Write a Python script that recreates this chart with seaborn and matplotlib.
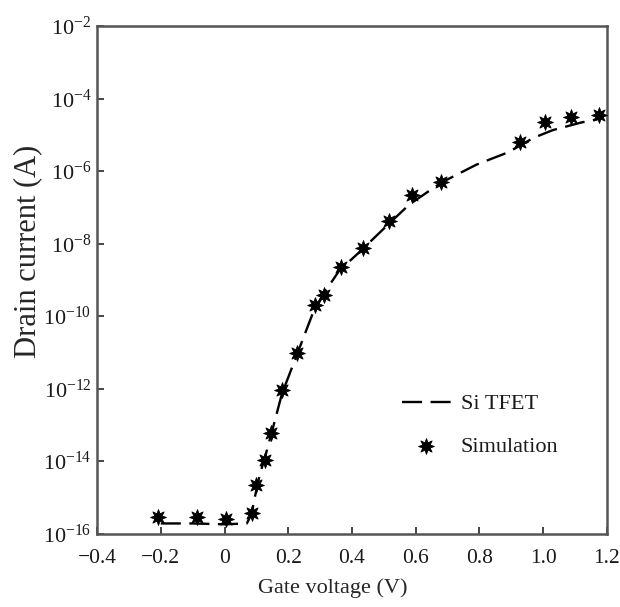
import matplotlib
matplotlib.use("Agg")
import matplotlib.pyplot as plt
import seaborn as sns
import pandas as pd

# Si TFET transfer characteristic (dashed model curve)
vg_model = [-0.20, -0.10, 0.00, 0.07, 0.085, 0.095, 0.11, 0.13, 0.15, 0.18,
            0.23, 0.28, 0.31, 0.36, 0.43, 0.50, 0.58, 0.68, 0.79, 0.89,
            0.97, 1.03, 1.12, 1.18]
id_model = [1.9e-16, 1.9e-16, 1.8e-16, 1.9e-16, 3.5e-16, 1.0e-15, 4.0e-15,
            1.6e-14, 7.1e-14, 7.1e-13, 1.0e-11, 1.4e-10, 4.0e-10, 1.8e-9,
            6.6e-9, 2.6e-8, 1.2e-7, 4.8e-7, 1.5e-6, 3.3e-6, 8.3e-6,
            1.35e-5, 2.2e-5, 2.8e-5]

# Simulated points
vg_sim = [-0.21, -0.086, 0.005, 0.086, 0.10, 0.127, 0.146, 0.18, 0.227,
          0.284, 0.312, 0.365, 0.435, 0.516, 0.588, 0.679, 0.927, 1.005,
          1.087, 1.175]
id_sim = [2.8e-16, 2.8e-16, 2.5e-16, 3.7e-16, 2.2e-15, 1.1e-14, 5.9e-14,
          9.1e-13, 9.5e-12, 2.0e-10, 3.8e-10, 2.2e-9, 7.6e-9, 4.2e-8,
          2.2e-7, 5.0e-7, 6.3e-6, 2.2e-5, 3.1e-5, 3.5e-5]

x_ticks = [-0.4, -0.2, 0.0, 0.2, 0.4, 0.6, 0.8, 1.0, 1.2]
x_tick_labels = ["\u22120.4", "\u22120.2", "0", "0.2", "0.4", "0.6", "0.8", "1.0", "1.2"]
y_exponents = [-16, -14, -12, -10, -8, -6, -4, -2]

sns.set_style("ticks")
plt.rcParams["font.family"] = ["Liberation Serif", "DejaVu Serif"]
plt.rcParams["mathtext.fontset"] = "custom"
plt.rcParams["mathtext.rm"] = "Liberation Serif"
plt.rcParams["mathtext.it"] = "Liberation Serif:italic"
plt.rcParams["text.color"] = "#1a1a1a"
plt.rcParams["xtick.labelcolor"] = "#1a1a1a"
plt.rcParams["ytick.labelcolor"] = "#1a1a1a"

model_df = pd.DataFrame({"vg": vg_model, "id": id_model})
sim_df = pd.DataFrame({"vg": vg_sim, "id": id_sim})

fig = plt.figure(figsize=(6.2, 6.07), dpi=100)
ax = fig.add_axes([0.1565, 0.121, 0.8225, 0.836])

sns.lineplot(data=model_df, x="vg", y="id", ax=ax, color="black",
             linewidth=1.7, dashes=False, label="Si TFET", sort=False)
ax.lines[0].set_dashes((8.5, 3.6))
sns.scatterplot(data=sim_df, x="vg", y="id", ax=ax, color="black",
                marker=(8, 1, 0), s=130, linewidth=0.6, edgecolor="black",
                label="Simulation", zorder=3)

ax.set_yscale("log")
ax.set_xlim(-0.4, 1.2)
ax.set_ylim(1e-16, 1e-2)
ax.set_xticks(x_ticks)
ax.set_xticklabels(x_tick_labels)
ax.set_yticks([10.0 ** e for e in y_exponents])
ax.set_yticklabels([rf"$10^{{{e}}}$" for e in y_exponents])
ax.yaxis.set_minor_locator(matplotlib.ticker.NullLocator())

ax.tick_params(axis="x", direction="in", length=5, width=1.4, color="#444444",
               labelsize=15.5, pad=11, top=False)
ax.tick_params(axis="y", direction="in", length=5, width=1.4, color="#444444",
               labelsize=16, pad=4, right=False)
for sp in ax.spines.values():
    sp.set_color("#555555")
    sp.set_linewidth(1.8)

ax.set_xlabel("Gate voltage (V)", fontsize=16)
ax.set_ylabel("Drain current (A)", fontsize=22)
ax.xaxis.set_label_coords(0.462, -0.088)
ax.yaxis.set_label_coords(-0.108, 0.557)

leg = ax.legend(loc="center left", bbox_to_anchor=(0.598, 0.213),
                frameon=False, fontsize=16, handlelength=2.2,
                handletextpad=0.45, labelspacing=1.0, borderpad=0,
                borderaxespad=0)

fig.savefig("out.png", dpi=100)
